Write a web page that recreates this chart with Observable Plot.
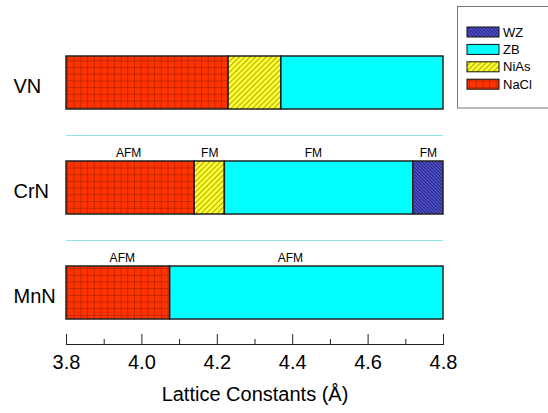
<!DOCTYPE html>
<html>
<head>
<meta charset="utf-8">
<script src="https://cdn.jsdelivr.net/npm/d3@7"></script>
<script src="https://cdn.jsdelivr.net/npm/@observablehq/plot@0.6"></script>
<style>
  html, body { margin: 0; padding: 0; background: #fff; }
  #wrap { position: relative; width: 548px; height: 413px; overflow: hidden; }
  #legend { position: absolute; left: 0; top: 0; }
</style>
</head>
<body>
<div id="wrap"></div>
<script>
// ---- data ----
const compounds = ["VN", "CrN", "MnN"];
const phases = ["WZ", "ZB", "NiAs", "NaCl"];

const segCompound = ["VN", "VN", "VN", "CrN", "CrN", "CrN", "CrN", "MnN", "MnN"];
const segPhase    = ["NaCl", "NiAs", "ZB", "NaCl", "NiAs", "ZB", "WZ", "NaCl", "ZB"];
const segFrom     = [3.8, 4.23, 4.37, 3.8, 4.14, 4.22, 4.72, 3.8, 4.075];
const segTo       = [4.23, 4.37, 4.8, 4.14, 4.22, 4.72, 4.8, 4.075, 4.8];

const magCompound = ["CrN", "CrN", "CrN", "CrN", "MnN", "MnN"];
const magText     = ["AFM", "FM", "FM", "FM", "AFM", "AFM"];
const magX        = [3.965, 4.18, 4.455, 4.76, 3.948, 4.394];

const majorTicks = [3.8, 4.0, 4.2, 4.4, 4.6, 4.8];
const minorTicks = [3.9, 4.1, 4.3, 4.5, 4.7];
const xLabel = "Lattice Constants (Å)";

// ---- tables ----
const segs = segCompound.map((c, i) => ({compound: c, phase: segPhase[i], from: segFrom[i], to: segTo[i]}));
const mags = magCompound.map((c, i) => ({compound: c, text: magText[i], x: magX[i]}));

const patternUrl = p => `url(#pat-${p})`;

const chart = Plot.plot({
  width: 548,
  height: 413,
  marginLeft: 66,
  marginRight: 105,
  marginTop: 4,
  marginBottom: 69,
  style: {fontFamily: "'Liberation Sans', Arial, sans-serif", background: "transparent", overflow: "visible"},
  x: {domain: [3.8, 4.8]},
  y: {domain: compounds, range: [4, 371], padding: 0.495},
  color: {domain: phases, range: phases.map(patternUrl)},
  marks: [
    Plot.ruleY(compounds.slice(0, 2), {x1: 3.8, x2: 4.8, dy: 52.5, stroke: "#8fe6ea", strokeWidth: 1}),
    Plot.barX(segs, {x1: "from", x2: "to", y: "compound", fill: "phase", stroke: "#222", strokeWidth: 1.5}),
    Plot.text(mags, {x: "x", y: "compound", text: "text", dy: -35, fontSize: 12, fill: "#000"}),
    Plot.frame({anchor: "bottom", stroke: "#222", strokeWidth: 1.2}),
    Plot.axisX({ticks: minorTicks, tickSize: -5, text: null, stroke: "#222"}),
    Plot.axisX({ticks: majorTicks, tickSize: -10, text: null, stroke: "#222"}),
    Plot.axisX({ticks: majorTicks, tickSize: 0, tickPadding: 10, tickFormat: d3.format(".1f"), fontSize: 20, label: null}),
    Plot.axisY({tickSize: 0, tickPadding: 53, textAnchor: "start", fontSize: 20, dy: 4, label: null}),
    Plot.text([xLabel], {frameAnchor: "bottom", lineAnchor: "middle", dy: 50, fontSize: 20, fill: "#000"})
  ]
});

document.getElementById("wrap").appendChild(chart);

// ---- patterns ----
const svg = d3.select(chart);
const defs = svg.insert("defs", ":first-child");
function addPatterns(defs) {
  const nacl = defs.append("pattern").attr("id", "pat-NaCl").attr("patternUnits", "userSpaceOnUse")
    .attr("width", 6.7).attr("height", 6.7);
  nacl.append("rect").attr("width", 6.7).attr("height", 6.7).attr("fill", "#ff3300");
  nacl.append("path").attr("d", "M0,0V6.7M0,0H6.7").attr("stroke", "#6a1200").attr("stroke-width", 1).attr("stroke-opacity", 0.75);

  const nias = defs.append("pattern").attr("id", "pat-NiAs").attr("patternUnits", "userSpaceOnUse")
    .attr("width", 3.8).attr("height", 10).attr("patternTransform", "rotate(45)");
  nias.append("rect").attr("width", 3.8).attr("height", 10).attr("fill", "#ffff33");
  nias.append("line").attr("x1", 0.5).attr("x2", 0.5).attr("y1", 0).attr("y2", 10).attr("stroke", "#9a8c00").attr("stroke-width", 0.8);

  const zb = defs.append("pattern").attr("id", "pat-ZB").attr("patternUnits", "userSpaceOnUse")
    .attr("width", 10).attr("height", 10);
  zb.append("rect").attr("width", 10).attr("height", 10).attr("fill", "#00ffff");

  const wz = defs.append("pattern").attr("id", "pat-WZ").attr("patternUnits", "userSpaceOnUse")
    .attr("width", 2.4).attr("height", 10).attr("patternTransform", "rotate(-45)");
  wz.append("rect").attr("width", 2.4).attr("height", 10).attr("fill", "#2a2a9c");
  wz.append("line").attr("x1", 0.5).attr("x2", 0.5).attr("y1", 0).attr("y2", 10).attr("stroke", "#7070d4").attr("stroke-width", 0.8);
}
addPatterns(defs);

// ---- legend ----
const leg = d3.select("#wrap").append("svg").attr("id", "legend").attr("width", 548).attr("height", 413);
leg.append("rect").attr("x", 457.5).attr("y", 6.5).attr("width", 120).attr("height", 101.5)
  .attr("fill", "#fff").attr("stroke", "#777").attr("stroke-width", 1);
phases.forEach((p, i) => {
  const cy = 32 + i * 17.4;
  leg.append("rect").attr("x", 467).attr("y", cy - 5).attr("width", 32).attr("height", 10)
    .attr("fill", patternUrl(p)).attr("stroke", "#111").attr("stroke-width", 1);
  leg.append("text").attr("x", 503).attr("y", cy).attr("dy", "0.35em")
    .attr("font-family", "'Liberation Sans', Arial, sans-serif").attr("font-size", 13).attr("fill", "#000").text(p);
});
</script>
</body>
</html>
